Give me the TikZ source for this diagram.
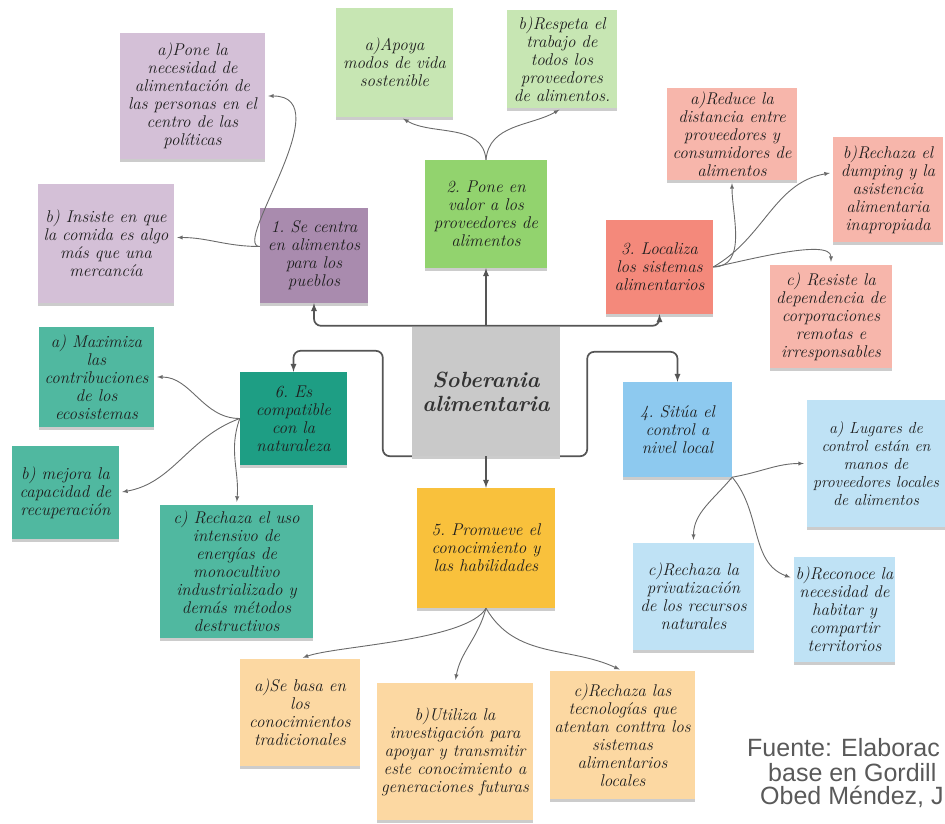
\documentclass[tikz,border=0pt]{standalone}
\usepackage{fontspec}
\usepackage{tikz}
\usetikzlibrary{shapes,shadows,calc}
\newfontfamily\srcfont{Liberation Sans}
\definecolor{rootgray}{HTML}{C9C9C9}
\definecolor{roottext}{HTML}{333333}
\definecolor{notetext}{HTML}{1E1E1E}
\definecolor{purpleA}{HTML}{A98BAE}
\definecolor{purpleB}{HTML}{D4C0D7}
\definecolor{greenA}{HTML}{92D36E}
\definecolor{greenB}{HTML}{C7E6B3}
\definecolor{redA}{HTML}{F4897B}
\definecolor{redB}{HTML}{F7B6AB}
\definecolor{blueA}{HTML}{8DC9EF}
\definecolor{blueB}{HTML}{BFE2F5}
\definecolor{yellowA}{HTML}{F9C13C}
\definecolor{yellowB}{HTML}{FCD8A2}
\definecolor{tealA}{HTML}{1E9E84}
\definecolor{tealB}{HTML}{50B8A0}
\definecolor{linegray}{HTML}{555555}
\definecolor{branchgray}{HTML}{6A6A6A}
\definecolor{sourcegray}{HTML}{595959}

\begin{document}
\begin{tikzpicture}[x=1pt, y=-1pt]
\tikzstyle{note}=[rectangle, align=center, inner sep=2pt, text=notetext, font=\fontsize{17}{18}\selectfont\itshape\frenchspacing, drop shadow={shadow xshift=0pt, shadow yshift=-3pt, opacity=0.2, fill=black}]
\tikzstyle{root}=[note, fill=rootgray, text=roottext, font=\fontsize{22}{24}\selectfont\bfseries\itshape]
\tikzstyle{connect}=[-latex, line width=1.7pt, draw=linegray, rounded corners=7pt]
\tikzstyle{branch}=[-latex, line width=0.9pt, draw=branchgray, shorten >=3pt]
\tikzstyle{source}=[inner sep=0pt, anchor=west, text=sourcegray, font=\srcfont\fontsize{25}{25}\selectfont]

\useasboundingbox (0,0) rectangle (945,824);
\clip (0,0) rectangle (945,824);

  % centre
  \node[root, minimum width=148pt, minimum height=129pt] (center) at (486,391.5) {Soberania\\alimentaria};

  % 1
  \node[note, fill=purpleA, minimum width=108pt, minimum height=95pt]  (one)  at (314,255.5) {1. Se centra\\en alimentos\\para los\\pueblos};
  \node[note, fill=purpleB, minimum width=145pt, minimum height=126pt] (onea) at (192.5,96)  {a)Pone la\\necesidad de\\alimentación de\\las personas en el\\centro de las\\políticas};
  \node[note, fill=purpleB, minimum width=136pt, minimum height=119pt] (oneb) at (106,243.5) {b) Insiste en que\\la comida es algo\\más que una\\mercancía};

  % 2
  \node[note, fill=greenA, minimum width=122pt, minimum height=108pt] (two)  at (486,214)   {2. Pone en\\valor a los\\proveedores de\\alimentos};
  \node[note, fill=greenB, minimum width=117pt, minimum height=109pt] (twoa) at (394.5,62.5) {a)Apoya\\modos de vida\\sostenible};
  \node[note, fill=greenB, minimum width=110pt, minimum height=98pt]  (twob) at (562,59)    {b)Respeta el\\trabajo de\\todos los\\proveedores\\de alimentos.};

  % 3
  \node[note, fill=redA, minimum width=107pt, minimum height=94pt]  (three)  at (659.5,267) {3. Localiza\\los sistemas\\alimentarios};
  \node[note, fill=redB, minimum width=130pt, minimum height=92pt]  (threea) at (732,134)   {a)Reduce la\\distancia entre\\proveedores y\\consumidores de\\alimentos};
  \node[note, fill=redB, minimum width=110pt, minimum height=105pt] (threeb) at (888,189.5) {b)Rechaza el\\dumping y la\\asistencia\\alimentaria\\inapropiada};
  \node[note, fill=redB, minimum width=122pt, minimum height=103pt] (threec) at (831,316.5) {c) Resiste la\\dependencia de\\corporaciones\\remotas e\\irresponsables};

  % 4
  \node[note, fill=blueA, minimum width=109pt, minimum height=95pt]  (four)  at (677.5,429.5) {4. Sitúa el\\control a\\nivel local};
  \node[note, fill=blueB, minimum width=138pt, minimum height=127pt, font=\fontsize{16}{18}\selectfont\itshape] (foura) at (876,463.5) {a) Lugares de\\control están en\\manos de\\proveedores locales\\de alimentos};
  \node[note, fill=blueB, minimum width=95pt, minimum height=105pt]  (fourb) at (844.5,609.5) {b)Reconoce la\\necesidad de\\habitar y\\compartir\\territorios};
  \node[note, fill=blueB, minimum width=121pt, minimum height=107pt] (fourc) at (693.5,596.5) {c)Rechaza la\\privatización\\de los recursos\\naturales};

  % 5
  \node[note, fill=yellowA, minimum width=138pt, minimum height=120pt] (five)  at (486,548)   {5. Promueve el\\conocimiento y\\las habilidades};
  \node[note, fill=yellowB, minimum width=120pt, minimum height=107pt] (fivea) at (300,712.5) {a)Se basa en\\los\\conocimientos\\tradicionales};
  \node[note, fill=yellowB, minimum width=156pt, minimum height=137pt] (fiveb) at (455,751.5) {b)Utiliza la\\investigación para\\apoyar y transmitir\\este conocimiento a\\generaciones futuras};
  \node[note, fill=yellowB, minimum width=145pt, minimum height=128pt] (fivec) at (622.5,735) {c)Rechaza las\\tecnologías que\\atentan conttra los\\sistemas\\alimentarios\\locales};

  % 6
  \node[note, fill=tealA, minimum width=107pt, minimum height=93pt]  (six)  at (293.5,418.5) {6. Es\\compatible\\con la\\naturaleza};
  \node[note, fill=tealB, minimum width=115pt, minimum height=100pt] (sixa) at (96.5,377)    {a) Maximiza\\las\\contribuciones\\de los\\ecosistemas};
  \node[note, fill=tealB, minimum width=107pt, minimum height=93pt]  (sixb) at (65.5,492.5)   {b) mejora la\\capacidad de\\recuperación};
  \node[note, fill=tealB, minimum width=153pt, minimum height=133pt] (sixc) at (236.5,571.5)  {c) Rechaza el uso\\intensivo de\\energías de\\monocultivo\\industrializado y\\demás métodos\\destructivos};

  % source
  \node[source] (src1) at (747,748) {Fuente: Elaborac};
  \node[source] (src2) at (768,773) {base en Gordill};
  \node[source] (src3) at (760,797) {Obed Méndez, J};

  % trunk
  \draw[connect] ([yshift=1pt]center.north) -- (two.south);
  \draw[connect] ([yshift=1pt]center.north) -| (one.south);
  \draw[connect] ([yshift=1pt]center.north) -| (three.south);
  \draw[connect] (center.south west) -- ++(-29,0) |- ([yshift=21pt]six.north) -- (six.north);
  \draw[connect] (center.south east) -- ++(27,0) |- ([yshift=30pt]four.north) -- (four.north);
  \draw[connect] (center.south) -- (five.north);

  % branches
  \path ([yshift=9pt]one.west) edge [branch, out=180, in=0, out looseness=0.5, in looseness=1.3] (onea.east);
  \path ([yshift=9pt]one.west) edge [branch, out=180, in=0] ([yshift=6pt]oneb.east);

  \path (two.north) edge [branch, out=95, in=-30] ([xshift=6pt]twoa.south);
  \path (two.north) edge [branch, out=85, in=-150] (twob.south);

  \path (three.east) edge [branch, out=0, in=-90] (threea.south);
  \path (three.east) edge [branch, out=30, in=190] ([yshift=17pt]threeb.west);
  \path (three.east) edge [branch, out=10, in=90, looseness=0.6] (threec.north);

  \path (four.south east) edge [branch, out=10, in=180] (foura.west);
  \path (four.south east) edge [branch, out=-50, in=160] ([yshift=31pt]fourb.west);
  \path (four.south east) edge [branch, out=-130, in=90] (fourc.north);

  \path (five.south) edge [branch, out=-120, in=20, looseness=0.5] (fivea.north);
  \path (five.south) edge [branch, out=-105, in=80] (fiveb.north);
  \path (five.south) edge [branch, out=-60, in=155] (fivec.north);

  \path (six.west) edge [branch, out=180, in=0] (sixa.east);
  \path (six.west) edge [branch, out=200, in=10] (sixb.east);
  \path (six.west) edge [branch, out=-110, in=85] (sixc.north);

\end{tikzpicture}
\end{document}
